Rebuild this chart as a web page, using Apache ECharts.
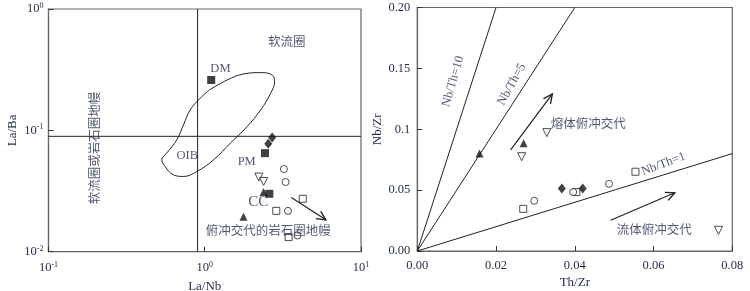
<!DOCTYPE html>
<html><head><meta charset="utf-8">
<script src="https://cdn.jsdelivr.net/npm/echarts@6/dist/echarts.min.js"></script>
<style>html,body{margin:0;padding:0;background:#fff}#c{width:750px;height:291px}</style>
</head><body><div id="c"></div>
<script>
// ---------- Left panel: La/Nb (x, log) vs La/Ba (y, log) ----------
const filledSquaresL = [[1.10,0.26],[2.43,0.0649],[2.59,0.030]];
const filledDiamondsL = [[2.70,0.0873],[2.55,0.0774]];
const filledTrianglesL = [[2.38,0.031],[1.77,0.0194]];
const openCirclesL = [[3.21,0.048],[3.29,0.0375],[3.41,0.0217],[3.92,0.0136]];
const openSquaresL = [[4.24,0.0273],[2.87,0.0217],[3.44,0.0132]];
const openDownTrianglesL = [[2.22,0.0412],[2.38,0.0379]];
const oibField = [[1.07,0.215],[1.39,0.26],[1.78,0.292],[2.28,0.299],[2.70,0.286],[2.80,0.252],[2.64,0.202],[2.28,0.1475],[1.87,0.1075],[1.46,0.0785],[1.14,0.0572],[0.891,0.0458],[0.731,0.0417],[0.630,0.043],[0.557,0.0504],[0.531,0.0572],[0.571,0.0649],[0.662,0.0835],[0.731,0.111],[0.807,0.1475],[0.935,0.184],[1.07,0.215]];
const vLineL = [[0.9,0.01],[0.9,1]];
const hLineL = [[0.1,0.0893],[10,0.0893]];
const arrowsL = [[3.58,0.028,5.96,0.0183]];
const textsL = [
  [3.35,0.538,'软流圈',0],
  [1.26,0.325,'DM',0],
  [0.773,0.0615,'OIB',0],
  [1.855,0.0552,'PM',0],
  [2.20,0.0257,'CC',0],
  [2.55,0.0151,'俯冲交代的岩石圈地幔',0],
  [0.195,0.0716,'软流圈或岩石圈地幔',90]
];

// ---------- Right panel: Th/Zr (x) vs Nb/Zr (y) ----------
const xTickLabelsR = ['0.00','0.02','0.04','0.06','0.08'];
const yTickLabelsR = ['0.00','0.05','0.1','0.15','0.20'];
const filledTrianglesR = [[0.0158,0.080],[0.0270,0.0885]];
const openDownTrianglesR = [[0.0265,0.0775],[0.0329,0.0972],[0.0765,0.017]];
const openSquaresR = [[0.0269,0.0346],[0.0404,0.0484],[0.0554,0.0651]];
const openCirclesR = [[0.0297,0.0412],[0.0396,0.0484],[0.0487,0.0552]];
const filledDiamondsR = [[0.0367,0.0514],[0.0420,0.0514]];
const ratioLine10 = [[0,0],[0.02,0.2]];
const ratioLine5 = [[0,0],[0.04,0.2]];
const ratioLine1 = [[0,0],[0.08,0.08]];
const arrowsR = [[0.0237,0.083,0.0343,0.129],[0.0491,0.0253,0.0654,0.0478]];
const textsR = [
  [0.0091,0.1393,'Nb/Th=10',74],
  [0.0240,0.1368,'Nb/Th=5',61],
  [0.0625,0.0714,'Nb/Th=1',21],
  [0.0434,0.105,'熔体俯冲交代',0],
  [0.0602,0.0181,'流体俯冲交代',0]
];

const TXT = '#1e2a4a';
const LINE = '#222';
const AX = '#666';
const FONT = "'Liberation Serif','Times New Roman','Noto Sans CJK SC',serif";

const sup = {
  b:{fontSize:12.5,fontFamily:FONT,color:TXT,lineHeight:16},
  s:{fontSize:8,fontFamily:FONT,color:TXT,lineHeight:16,padding:[0,0,6,0]}
};
function logFmt(v){ const e=Math.round(Math.log10(v)); return '{b|10}{s|'+e+'}'; }

function axisBase(extra){
  return Object.assign({
    axisLine:{show:true,lineStyle:{color:AX,width:1.2}},
    axisTick:{show:true,inside:true,length:5,lineStyle:{color:'#333'}},
    splitLine:{show:false},
    nameLocation:'middle',
    nameTextStyle:{fontFamily:FONT,fontSize:13,color:TXT}
  }, extra);
}

function markerSeries(data, xi, yi, symbol, filled, size, rot){
  return {
    type:'scatter', xAxisIndex:xi, yAxisIndex:yi, data:data,
    symbol:symbol, symbolSize:size, symbolRotate:rot||0,
    itemStyle: filled ? {color:'#111'} : {color:'#fff',borderColor:'#222',borderWidth:1},
    z:5, silent:true
  };
}
function lineSeries(data, xi, yi, smooth){
  return {type:'line', xAxisIndex:xi, yAxisIndex:yi, data:data, symbol:'none', smooth:smooth||false,
    lineStyle:{color:LINE,width:1}, silent:true, z:3};
}
function arrowSeries(data, xi, yi){
  return {
    type:'custom', xAxisIndex:xi, yAxisIndex:yi, data:data, silent:true, z:4,
    encode:{x:[0,2],y:[1,3]},
    renderItem:function(params, api){
      const p1 = api.coord([api.value(0),api.value(1)]);
      const p2 = api.coord([api.value(2),api.value(3)]);
      const a = Math.atan2(p2[1]-p1[1], p2[0]-p1[0]);
      const L = 10, h = 0.45;
      const h1 = [p2[0]-L*Math.cos(a-h), p2[1]-L*Math.sin(a-h)];
      const h2 = [p2[0]-L*Math.cos(a+h), p2[1]-L*Math.sin(a+h)];
      return {type:'group', children:[
        {type:'line', shape:{x1:p1[0],y1:p1[1],x2:p2[0],y2:p2[1]}, style:{stroke:LINE,lineWidth:1.2}},
        {type:'polyline', shape:{points:[h1,p2,h2]}, style:{stroke:LINE,fill:null,lineWidth:1.4}}
      ]};
    }
  };
}
function textSeries(list, xi, yi){
  return {
    type:'scatter', xAxisIndex:xi, yAxisIndex:yi, symbolSize:0, silent:true, z:6,
    data:list.map(function(t){
      const isCC = t[2]==='CC';
      const isCJK = /[\u4e00-\u9fff]/.test(t[2]);
      return {value:[t[0],t[1]], label:{show:true, position:'inside', formatter:t[2], rotate:t[3],
        fontSize: isCC?15:12.5, fontFamily: isCJK?"'Noto Sans CJK SC',sans-serif":FONT, color:TXT}};
    })
  };
}

const chart = echarts.init(document.getElementById('c'), null, {renderer:'canvas'});
chart.setOption({
  animation:false,
  backgroundColor:'#fff',
  grid:[
    {left:48.5, top:9, width:312.5, height:242.7, show:true, borderColor:AX, borderWidth:1.2, containLabel:false, outerBoundsMode:'none'},
    {left:417.3, top:7.5, width:315, height:243.5, show:true, borderColor:AX, borderWidth:1.2, containLabel:false, outerBoundsMode:'none'}
  ],
  xAxis:[
    axisBase({type:'log', logBase:10, min:0.1, max:10, gridIndex:0, name:'La/Nb', nameGap:21,
      axisLabel:{formatter:logFmt, rich:sup, margin:8}}),
    axisBase({type:'value', min:0, max:0.08, interval:0.02, gridIndex:1, name:'Th/Zr', nameGap:21,
      axisLabel:{formatter:function(v){return xTickLabelsR[Math.round(v/0.02)];}, fontFamily:FONT, fontSize:12.5, color:TXT, margin:8}})
  ],
  yAxis:[
    axisBase({type:'log', logBase:10, min:0.01, max:1, gridIndex:0, name:'La/Ba', nameGap:29,
      axisLabel:{formatter:logFmt, rich:sup, margin:5}}),
    axisBase({type:'value', min:0, max:0.2, interval:0.05, gridIndex:1, name:'Nb/Zr', nameGap:31,
      axisLabel:{formatter:function(v){return yTickLabelsR[Math.round(v/0.05)];}, fontFamily:FONT, fontSize:12.5, color:TXT, margin:7}})
  ],
  series:[
    lineSeries(vLineL,0,0),
    lineSeries(hLineL,0,0),
    lineSeries(oibField,0,0,0.4),
    arrowSeries(arrowsL,0,0),
    markerSeries(filledSquaresL,0,0,'rect',true,8),
    markerSeries(filledDiamondsL,0,0,'diamond',true,[8,10]),
    markerSeries(filledTrianglesL,0,0,'triangle',true,8),
    markerSeries(openCirclesL,0,0,'circle',false,7),
    markerSeries(openSquaresL,0,0,'rect',false,7),
    markerSeries(openDownTrianglesL,0,0,'triangle',false,8,180),
    textSeries(textsL,0,0),

    lineSeries(ratioLine10,1,1),
    lineSeries(ratioLine5,1,1),
    lineSeries(ratioLine1,1,1),
    arrowSeries(arrowsR,1,1),
    markerSeries(filledTrianglesR,1,1,'triangle',true,8),
    markerSeries(openDownTrianglesR,1,1,'triangle',false,8,180),
    markerSeries(openSquaresR,1,1,'rect',false,7),
    markerSeries(openCirclesR,1,1,'circle',false,7),
    markerSeries(filledDiamondsR,1,1,'diamond',true,[8,10]),
    textSeries(textsR,1,1)
  ]
});
</script></body></html>
